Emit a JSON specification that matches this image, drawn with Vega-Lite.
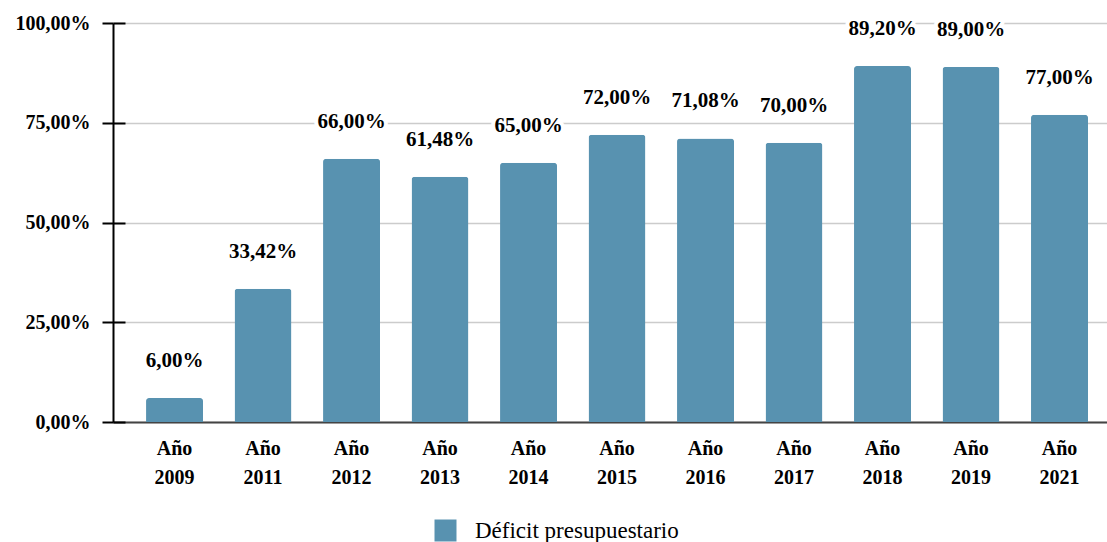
{
  "$schema": "https://vega.github.io/schema/vega-lite/v6.json",
  "width": 994,
  "height": 399,
  "autosize": "none",
  "padding": {"left": 113, "top": 23, "right": 0, "bottom": 120},
  "background": "white",
  "config": {"font": "Liberation Serif", "view": {"stroke": null}},
  "data": {
    "values": [
      {"year": "Año 2009", "value": 6.0, "label": "6,00%", "serie": "Déficit presupuestario"},
      {"year": "Año 2011", "value": 33.42, "label": "33,42%", "serie": "Déficit presupuestario"},
      {"year": "Año 2012", "value": 66.0, "label": "66,00%", "serie": "Déficit presupuestario"},
      {"year": "Año 2013", "value": 61.48, "label": "61,48%", "serie": "Déficit presupuestario"},
      {"year": "Año 2014", "value": 65.0, "label": "65,00%", "serie": "Déficit presupuestario"},
      {"year": "Año 2015", "value": 72.0, "label": "72,00%", "serie": "Déficit presupuestario"},
      {"year": "Año 2016", "value": 71.08, "label": "71,08%", "serie": "Déficit presupuestario"},
      {"year": "Año 2017", "value": 70.0, "label": "70,00%", "serie": "Déficit presupuestario"},
      {"year": "Año 2018", "value": 89.2, "label": "89,20%", "serie": "Déficit presupuestario"},
      {"year": "Año 2019", "value": 89.0, "label": "89,00%", "serie": "Déficit presupuestario"},
      {"year": "Año 2021", "value": 77.0, "label": "77,00%", "serie": "Déficit presupuestario"}
    ]
  },
  "encoding": {
    "x": {
      "field": "year",
      "type": "nominal",
      "sort": null,
      "scale": {"paddingInner": 0.356, "paddingOuter": 0.294, "align": 0.635},
      "axis": {
        "title": null,
        "labelExpr": "split(datum.label, ' ')",
        "labelAngle": 0,
        "ticks": false,
        "domainColor": "#444444",
        "domainWidth": 2,
        "labelFont": "Liberation Serif",
        "labelFontWeight": "bold",
        "labelFontSize": 20,
        "labelColor": "black",
        "labelPadding": 16,
        "labelLineHeight": 29,
        "labelBaseline": "top"
      }
    }
  },
  "layer": [
    {
      "mark": {"type": "bar", "cornerRadiusTopLeft": 3, "cornerRadiusTopRight": 3},
      "encoding": {
        "y": {
          "field": "value",
          "type": "quantitative",
          "scale": {"domain": [0, 100], "nice": false},
          "axis": {
            "title": null,
            "orient": "left",
            "values": [0, 25, 50, 75, 100],
            "labelExpr": "replace(format(datum.value, '.2f'), '.', ',') + '%'",
            "tickSize": 11,
            "tickWidth": 2,
            "tickColor": "black",
            "domainColor": "black",
            "domainWidth": 2,
            "grid": true,
            "gridColor": "#cccccc",
            "gridWidth": 1.5,
            "labelPadding": 12,
            "labelFont": "Liberation Serif",
            "labelFontWeight": "bold",
            "labelFontSize": 20,
            "labelColor": "black"
          }
        },
        "color": {
          "field": "serie",
          "type": "nominal",
          "scale": {"range": ["#5892b0"]},
          "legend": {
            "orient": "none",
            "legendX": 321,
            "legendY": 496,
            "direction": "horizontal",
            "title": null,
            "symbolType": "square",
            "symbolSize": 484,
            "symbolStrokeWidth": 0,
            "symbolOpacity": 1,
            "labelFont": "Liberation Serif",
            "labelFontSize": 23,
            "labelColor": "black",
            "labelOffset": 18,
            "labelLimit": 400
          }
        }
      }
    },
    {
      "mark": {"type": "text", "fontSize": 21, "fontWeight": "bold", "font": "Liberation Serif", "baseline": "middle", "dy": -37, "stroke": "white", "strokeWidth": 8, "strokeJoin": "round", "color": "white"},
      "encoding": {
        "y": {
          "field": "value",
          "type": "quantitative",
          "axis": {
            "title": null,
            "orient": "left",
            "offset": -12,
            "values": [0, 25, 50, 75, 100],
            "tickSize": 12,
            "tickWidth": 2,
            "tickColor": "black",
            "labels": false,
            "domain": false,
            "grid": false
          }
        },
        "text": {"field": "label"}
      }
    },
    {
      "mark": {"type": "text", "fontSize": 21, "fontWeight": "bold", "font": "Liberation Serif", "baseline": "middle", "dy": -37, "color": "black"},
      "encoding": {
        "y": {"field": "value", "type": "quantitative", "axis": null},
        "text": {"field": "label"}
      }
    }
  ],
  "resolve": {"axis": {"y": "independent"}}
}
